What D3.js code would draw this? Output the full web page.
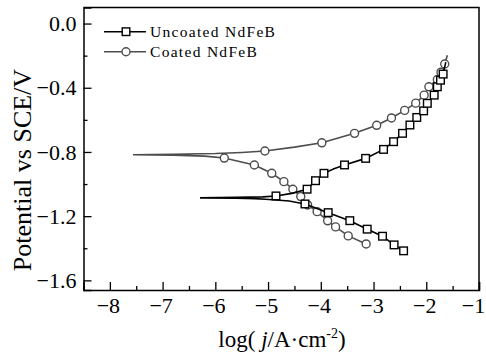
<!DOCTYPE html>
<html>
<head>
<meta charset="utf-8">
<script src="https://cdn.jsdelivr.net/npm/d3@7"></script>
<style>
  body { margin: 0; background: #fff; }
  svg { display: block; }
  text { font-family: "Liberation Serif", "Times New Roman", serif; fill: #000; }
</style>
</head>
<body>
<div id="chart"></div>
<script>
// tick values
const xTicks = [-8, -7, -6, -5, -4, -3, -2, -1];
const xMinor = [-8.5, -7.5, -6.5, -5.5, -4.5, -3.5, -2.5, -1.5];
const yTicks = [0, -0.4, -0.8, -1.2, -1.6];
const yMinor = [-0.2, -0.6, -1.0, -1.4];
const seriesNames = ['Uncoated NdFeB', 'Coated NdFeB'];

// uncoated NdFeB: [log j, E] along the measured curve (cathodic end -> Ecorr -> anodic end)
const uncoatedLine = [
  [-2.40, -1.430], [-2.43, -1.416], [-2.61, -1.379], [-2.83, -1.325], [-3.12, -1.281],
  [-3.45, -1.228], [-3.86, -1.178], [-4.30, -1.124], [-4.60, -1.106], [-4.85, -1.099],
  [-5.05, -1.095], [-5.25, -1.091], [-5.60, -1.088], [-6.29, -1.086], [-5.60, -1.083],
  [-5.10, -1.080], [-4.85, -1.074], [-4.55, -1.058], [-4.26, -1.032], [-4.10, -0.979],
  [-3.94, -0.933], [-3.75, -0.905], [-3.55, -0.881], [-3.15, -0.840], [-2.81, -0.784],
  [-2.62, -0.736], [-2.45, -0.684], [-2.31, -0.632], [-2.18, -0.585], [-2.05, -0.544],
  [-1.98, -0.497], [-1.85, -0.446], [-1.79, -0.394], [-1.73, -0.353], [-1.68, -0.315],
  [-1.63, -0.240]
];
const uncoatedMarks = [
  [-2.43, -1.416], [-2.61, -1.379], [-2.83, -1.325], [-3.12, -1.281], [-3.45, -1.228],
  [-3.86, -1.178], [-4.30, -1.124], [-4.85, -1.074], [-4.26, -1.032], [-4.10, -0.979],
  [-3.94, -0.933], [-3.55, -0.881], [-3.15, -0.840], [-2.81, -0.784], [-2.62, -0.736],
  [-2.45, -0.684], [-2.31, -0.632], [-2.18, -0.585], [-2.05, -0.544], [-1.98, -0.497],
  [-1.85, -0.446], [-1.79, -0.394], [-1.73, -0.353], [-1.68, -0.315]
];

// coated NdFeB
const coatedLine = [
  [-3.14, -1.373], [-3.48, -1.323], [-3.72, -1.267], [-3.87, -1.229], [-4.07, -1.172],
  [-4.25, -1.130], [-4.38, -1.078], [-4.53, -1.032], [-4.70, -0.985], [-4.93, -0.933],
  [-5.26, -0.881], [-5.83, -0.838], [-6.20, -0.826], [-6.80, -0.820], [-7.56, -0.817],
  [-6.80, -0.814], [-6.00, -0.810], [-5.50, -0.803], [-5.06, -0.794], [-4.50, -0.770],
  [-3.98, -0.743], [-3.36, -0.684], [-2.94, -0.634], [-2.66, -0.588], [-2.41, -0.541],
  [-2.20, -0.496], [-2.04, -0.446], [-1.95, -0.394], [-1.79, -0.349], [-1.72, -0.303],
  [-1.65, -0.252], [-1.60, -0.197]
];
const coatedMarks = [
  [-3.14, -1.373], [-3.48, -1.323], [-3.72, -1.267], [-3.87, -1.229], [-4.07, -1.172],
  [-4.25, -1.130], [-4.38, -1.078], [-4.53, -1.032], [-4.70, -0.985], [-4.93, -0.933],
  [-5.26, -0.881], [-5.83, -0.838], [-5.06, -0.794], [-3.98, -0.743], [-3.36, -0.684],
  [-2.94, -0.634], [-2.66, -0.588], [-2.41, -0.541], [-2.20, -0.496], [-2.04, -0.446],
  [-1.95, -0.394], [-1.79, -0.349], [-1.72, -0.303], [-1.65, -0.252]
];

const width = 486, height = 353;
const margin = {top: 7.5, right: 7, bottom: 63, left: 83.5};

const svg = d3.select('#chart').append('svg')
  .attr('width', width)
  .attr('height', height);

const x = d3.scaleLinear().domain([-8.5, -1]).range([margin.left, width - margin.right]);
const y = d3.scaleLinear().domain([-1.66, 0.1]).range([height - margin.bottom, margin.top]);

const fmtY = d3.format('.1f');

// bottom axis, ticks inward
const xAxis = svg.append('g')
  .attr('transform', 'translate(0,' + (height - margin.bottom) + ')')
  .call(d3.axisBottom(x).tickValues(xTicks).tickSize(-8).tickPadding(7).tickFormat(d3.format('d')));
svg.append('g')
  .attr('transform', 'translate(0,' + (height - margin.bottom) + ')')
  .call(d3.axisBottom(x).tickValues(xMinor).tickSize(-4).tickFormat(''))
  .call(g => g.select('.domain').remove());

const yAxis = svg.append('g')
  .attr('transform', 'translate(' + margin.left + ',0)')
  .call(d3.axisLeft(y).tickValues(yTicks).tickSize(-8).tickPadding(7).tickFormat(fmtY));
svg.append('g')
  .attr('transform', 'translate(' + margin.left + ',0)')
  .call(d3.axisLeft(y).tickValues(yMinor).tickSize(-4).tickFormat(''))
  .call(g => g.select('.domain').remove());

svg.selectAll('.tick line').attr('stroke', '#000').attr('stroke-width', 1.3);
svg.selectAll('.domain').attr('stroke', '#000').attr('stroke-width', 1.5);
xAxis.selectAll('text').attr('font-size', 22).attr('font-family', '"Liberation Serif", serif')
  .attr('dx', d => d === -1 ? -6 : -2);
yAxis.selectAll('text').attr('font-size', 22).attr('font-family', '"Liberation Serif", serif');

// frame top and right
svg.append('path')
  .attr('d', 'M' + x(-8.5) + ',' + y(0.1) + 'H' + x(-1) + 'V' + y(-1.66))
  .attr('fill', 'none')
  .attr('stroke', '#000')
  .attr('stroke-width', 1.5);

const line = d3.line().x(d => x(d[0])).y(d => y(d[1]));

const series = [
  {name: seriesNames[0], line: uncoatedLine, marks: uncoatedMarks, color: '#000', shape: 'square'},
  {name: seriesNames[1], line: coatedLine, marks: coatedMarks, color: '#4d4d4d', shape: 'circle'}
];

function drawMarker(g, shape, color) {
  if (shape === 'square') {
    g.append('rect').attr('x', -3.8).attr('y', -3.8).attr('width', 7.6).attr('height', 7.6)
      .attr('fill', '#fff').attr('stroke', color).attr('stroke-width', 1.4);
  } else {
    g.append('circle').attr('r', 4).attr('fill', '#fff').attr('stroke', color).attr('stroke-width', 1.4);
  }
}

// coated drawn first so uncoated sits on top
series.slice().reverse().forEach(s => {
  svg.append('path')
    .datum(s.line)
    .attr('d', line)
    .attr('fill', 'none')
    .attr('stroke', s.color)
    .attr('stroke-width', 1.6);
  svg.selectAll(null)
    .data(s.marks)
    .enter().append('g')
    .attr('transform', d => 'translate(' + x(d[0]) + ',' + y(d[1]) + ')')
    .each(function() { drawMarker(d3.select(this), s.shape, s.color); });
});

// legend
const legend = svg.append('g');
series.forEach((s, i) => {
  const ly = 31.7 + i * 20;
  legend.append('line').attr('x1', 104).attr('x2', 146).attr('y1', ly).attr('y2', ly)
    .attr('stroke', s.color).attr('stroke-width', 1.6);
  const m = legend.append('g').attr('transform', 'translate(126,' + ly + ')');
  drawMarker(m, s.shape, s.color);
  legend.append('text').attr('x', 150).attr('y', ly + 5)
    .attr('font-size', 15.5).attr('letter-spacing', 1.3)
    .text(s.name);
});

// axis titles
svg.append('text')
  .attr('transform', 'translate(31,170) rotate(-90)')
  .attr('text-anchor', 'middle')
  .attr('font-size', 26)
  .text('Potential vs SCE/V');

const xt = svg.append('text')
  .attr('x', 282).attr('y', 347)
  .attr('text-anchor', 'middle')
  .attr('font-size', 23);
xt.append('tspan').text('log( ');
xt.append('tspan').attr('font-style', 'italic').text('j');
xt.append('tspan').text('/A·cm');
xt.append('tspan').attr('font-size', 14).attr('dy', -9).text('-2');
xt.append('tspan').attr('dy', 9).text(')');
</script>
</body>
</html>
